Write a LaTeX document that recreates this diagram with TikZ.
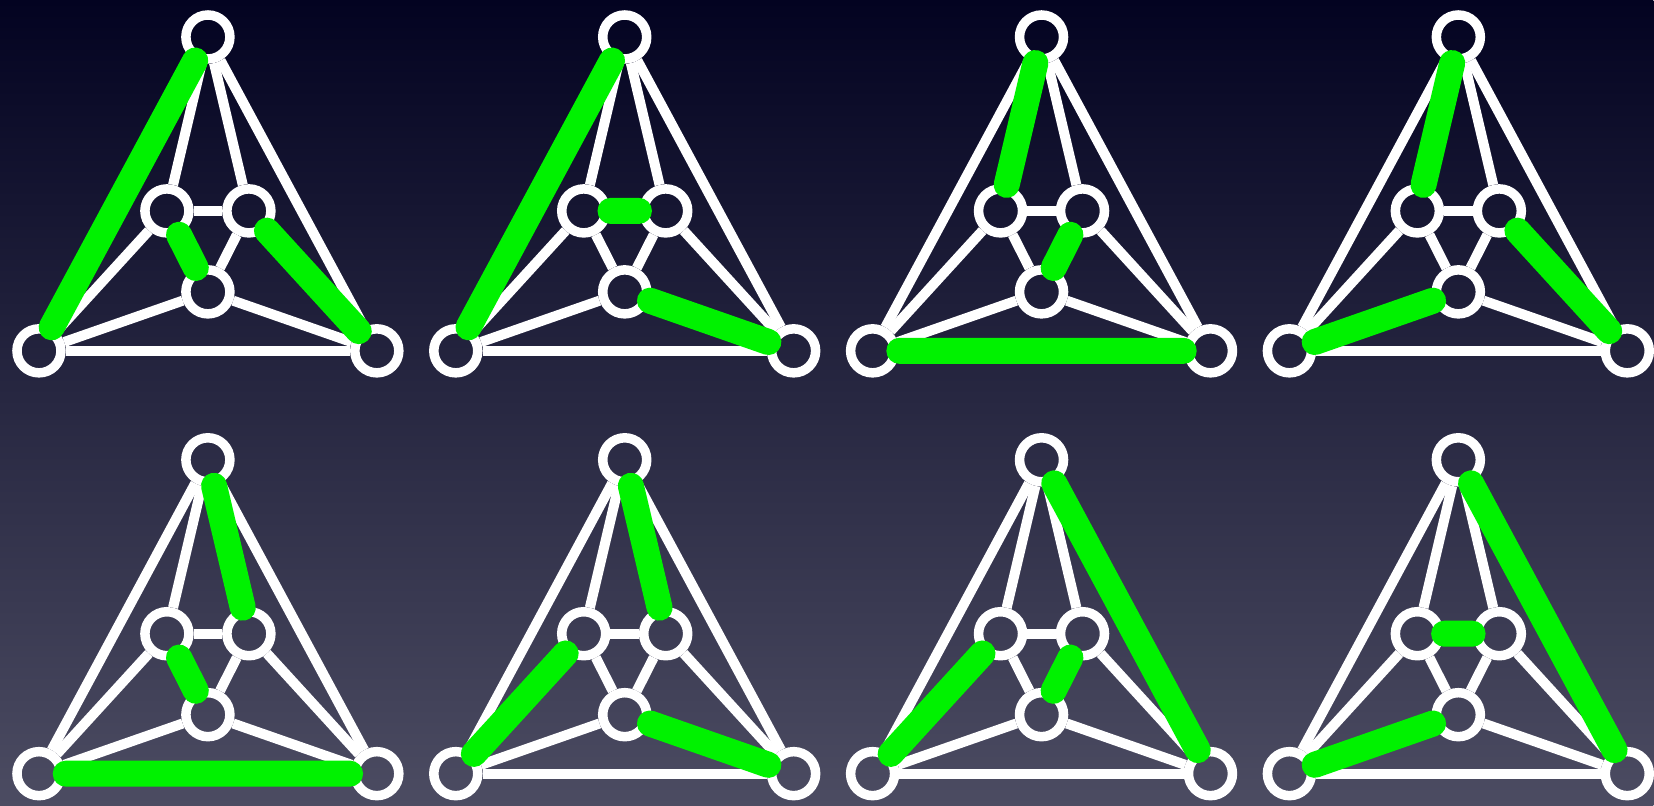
\documentclass[tikz,border=0pt]{standalone}
\definecolor{bgtop}{RGB}{3,3,33}
\definecolor{bgbot}{RGB}{76,76,98}
\definecolor{matchgreen}{RGB}{0,242,0}

\begin{document}
\begin{tikzpicture}[
    x=0.01cm,
    y=-0.01cm,
    vert/.style={circle, draw=white, line width=2.7pt, minimum size=4.4mm, inner sep=0pt},
    edge/.style={draw=white, line width=2.85pt},
    matched/.style={draw=matchgreen, line width=7.4pt, line cap=round}
  ]
    \shade[top color=bgtop, bottom color=bgbot] (0,0) rectangle (1654,806);

    % one octahedron graph per perfect matching
    \foreach \gx/\gy/\pa/\pb/\pc/\pd/\pe/\pf [count=\k] in {
        208/37/top/bl/il/ib/ir/br,
        625/37/top/bl/il/ir/ib/br,
        1042/37/top/il/ir/ib/bl/br,
        1459/37/top/il/ir/br/bl/ib,
        208/460/top/ir/il/ib/bl/br,
        625/460/top/ir/bl/il/ib/br,
        1042/460/top/br/bl/il/ir/ib,
        1459/460/top/br/il/ir/bl/ib} {
      \node[vert] (top\k) at (\gx,\gy) {};
      \node[vert] (bl\k) at (\gx-169,\gy+314) {};
      \node[vert] (br\k) at (\gx+169,\gy+314) {};
      \node[vert] (il\k) at (\gx-41,\gy+174) {};
      \node[vert] (ir\k) at (\gx+41,\gy+174) {};
      \node[vert] (ib\k) at (\gx,\gy+255) {};

      \foreach \u/\v in {top/bl,top/br,bl/br,top/il,top/ir,bl/il,bl/ib,br/ir,br/ib,il/ir,il/ib,ir/ib}
        \draw[edge] (\u\k) -- (\v\k);

      \draw[matched] (\pa\k) -- (\pb\k) (\pc\k) -- (\pd\k) (\pe\k) -- (\pf\k);
    }
  \end{tikzpicture}
\end{document}
